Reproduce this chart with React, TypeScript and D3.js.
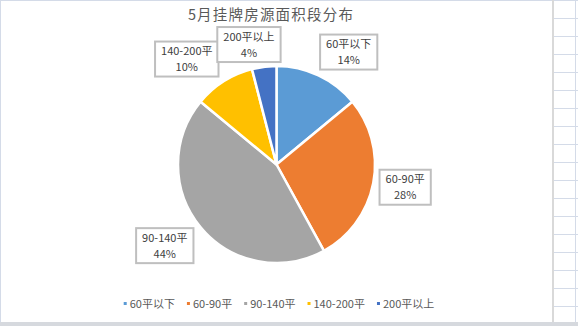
import { useEffect, useRef } from 'react';
import * as d3 from 'd3';

const W = 578, H = 326;
const CX = 276.5, CY = 164.5, R = 98.5, R_LABEL = 132;
const FONT = '"Noto Sans CJK SC", "Microsoft YaHei", sans-serif';

const categories = ['60平以下', '60-90平', '90-140平', '140-200平', '200平以上'];
const shares = [14, 28, 44, 10, 4];
const colors = ['#5b9bd5', '#ed7d31', '#a5a5a5', '#ffc000', '#4472c4'];

// Excel "best fit" nudges for the data label boxes
const labelNudge: [number, number][] = [[16, 7], [-1, -2], [-10, -3], [-19, 6], [-11, 11]];

export default function App() {
  const svgRef = useRef<SVGSVGElement>(null);

  useEffect(() => {
    const svg = d3.select(svgRef.current);
    svg.selectAll('*').remove();

    // sheet background + frame
    svg.append('rect').attr('width', W).attr('height', H).attr('fill', '#fff');
    const grid = svg.append('g');
    d3.range(0, 18).forEach((i) => {
      grid.append('line')
        .attr('x1', 553).attr('x2', W).attr('y1', i * 18 + 0.5).attr('y2', i * 18 + 0.5)
        .attr('stroke', '#d4dbe8');
    });
    grid.append('line').attr('x1', 575.5).attr('x2', 575.5).attr('y1', 0).attr('y2', H).attr('stroke', '#d4dbe8');
    svg.append('line').attr('x1', 0).attr('x2', W).attr('y1', 0.5).attr('y2', 0.5).attr('stroke', '#d4dbe8');
    svg.append('line').attr('x1', 0.5).attr('x2', 0.5).attr('y1', 0).attr('y2', H).attr('stroke', '#d4dbe8');
    svg.append('rect').attr('x', 552).attr('y', 0).attr('width', 2).attr('height', H).attr('fill', '#d9d9d9');
    svg.append('rect').attr('x', 0).attr('y', 322).attr('width', W).attr('height', 4).attr('fill', '#d6d9de');

    // title
    svg.append('text')
      .attr('x', 271).attr('y', 20)
      .attr('text-anchor', 'middle')
      .attr('font-family', FONT).attr('font-size', 14.5)
      .attr('letter-spacing', 1.2)
      .attr('fill', '#595959')
      .text('5月挂牌房源面积段分布');

    const data = categories.map((c, i) => ({ cat: c, v: shares[i], color: colors[i] }));
    const pie = d3.pie<any>().sort(null).value((d) => d.v);
    const arcs = pie(data);
    const arc = d3.arc<any>().innerRadius(0).outerRadius(R);

    const g = svg.append('g').attr('transform', `translate(${CX},${CY})`);
    g.selectAll('path')
      .data(arcs)
      .join('path')
      .attr('d', arc)
      .attr('fill', (d) => d.data.color)
      .attr('stroke', '#fff')
      .attr('stroke-width', 2.5)
      .attr('stroke-linejoin', 'round');

    // data labels
    const lab = svg.append('g');
    arcs.forEach((a, i) => {
      const mid = (a.startAngle + a.endAngle) / 2;
      const x = CX + R_LABEL * Math.sin(mid) + labelNudge[i][0];
      const y = CY - R_LABEL * Math.cos(mid) + labelNudge[i][1];
      const box = lab.append('g').attr('transform', `translate(${x},${y})`);
      const rect = box.append('rect');
      const t = box.append('text')
        .attr('text-anchor', 'middle')
        .attr('font-family', FONT).attr('font-size', 11)
        .attr('fill', '#404040');
      t.append('tspan').attr('x', 0).attr('y', -4).text(a.data.cat);
      t.append('tspan').attr('x', 0).attr('y', 12).text(`${a.data.v}%`);
      const w = (t.node() as SVGTextElement).getBBox().width + 12;
      const h = 35;
      rect.attr('x', -w / 2).attr('y', -h / 2).attr('width', w).attr('height', h)
        .attr('fill', '#fff').attr('stroke', '#bfbfbf').attr('stroke-width', 2);
    });

    // legend
    const leg = svg.append('g');
    let lx = 0;
    data.forEach((d) => {
      const it = leg.append('g').attr('transform', `translate(${lx},0)`);
      it.append('rect').attr('x', 0).attr('y', -3).attr('width', 3).attr('height', 3).attr('fill', d.color);
      const tx = it.append('text').attr('x', 6).attr('y', 3)
        .attr('font-family', FONT).attr('font-size', 11).attr('fill', '#595959')
        .text(d.cat);
      lx += 6 + (tx.node() as SVGTextElement).getComputedTextLength() + 12;
    });
    const legW = lx - 12;
    leg.attr('transform', `translate(${279 - legW / 2},305)`);
  }, []);

  return (
    <svg
      ref={svgRef}
      width={W}
      height={H}
      style={{ position: 'absolute', left: 0, top: 0, display: 'block' }}
    />
  );
}
